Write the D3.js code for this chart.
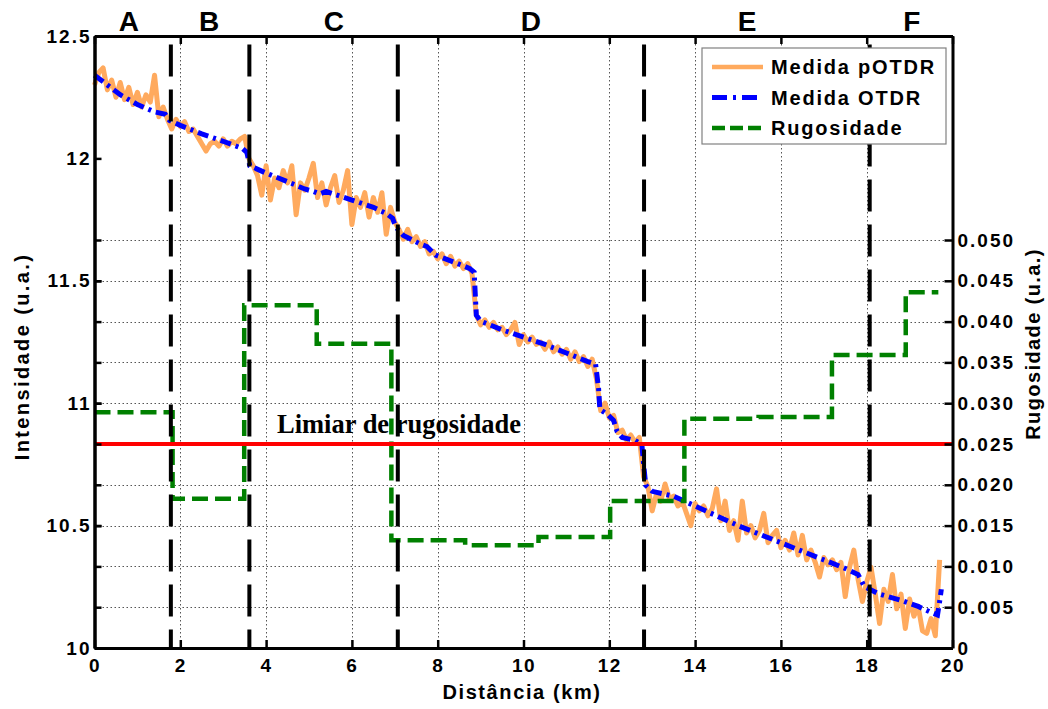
<!DOCTYPE html>
<html>
<head>
<meta charset="utf-8">
<script src="https://cdn.jsdelivr.net/npm/d3@7"></script>
<style>
  body { margin: 0; background: #fff; }
  text { font-family: "Liberation Sans", Arial, sans-serif; font-weight: bold; fill: #000; }
</style>
</head>
<body>
<svg id="chart" width="1048" height="709"></svg>
<script>
// ---- data ----
const xTicks = [0, 2, 4, 6, 8, 10, 12, 14, 16, 18, 20];
const leftTicks = [10, 10.5, 11, 11.5, 12, 12.5];
const rightTicks = [0, 0.005, 0.010, 0.015, 0.020, 0.025, 0.030, 0.035, 0.040, 0.045, 0.050];

const sectionNames = ["A", "B", "C", "D", "E", "F"];
const sectionCenters = [0.80, 2.67, 5.58, 10.17, 15.21, 19.05];   // km
const sectionBounds = [1.78, 3.61, 7.07, 12.81, 18.07];           // km

const roughThreshold = 0.025;
const thresholdLabel = "Limiar de rugosidade";

// pOTDR trace, one sample every 0.1 km starting at 0 km
const potdrStep = 0.1;
const potdrValues = [
  12.30, 12.35, 12.37, 12.28, 12.32, 12.25, 12.31, 12.24, 12.29, 12.22,
  12.27, 12.21, 12.26, 12.23, 12.34, 12.17, 12.21, 12.16, 12.12, 12.16,
  12.13, 12.15, 12.11, 12.12, 12.09, 12.06, 12.03, 12.06, 12.07, 12.05,
  12.08, 12.05, 12.07, 12.06, 12.08, 12.09, 12.00, 11.97, 11.93, 11.85,
  11.97, 11.83, 11.92, 11.88, 11.95, 11.90, 11.97, 11.77, 11.90, 11.87,
  11.92, 11.98, 11.84, 11.90, 11.81, 11.88, 11.93, 11.82, 11.87, 11.95,
  11.73, 11.84, 11.80, 11.86, 11.76, 11.84, 11.78, 11.86, 11.69, 11.80,
  11.74, 11.71, 11.67, 11.71, 11.66, 11.68, 11.64, 11.66, 11.61, 11.62,
  11.59, 11.61, 11.57, 11.60, 11.56, 11.58, 11.55, 11.57, 11.53, 11.36,
  11.32, 11.34, 11.31, 11.33, 11.30, 11.31, 11.28, 11.30, 11.33, 11.24,
  11.28, 11.25, 11.27, 11.24, 11.25, 11.22, 11.25, 11.21, 11.23, 11.20,
  11.22, 11.18, 11.21, 11.17, 11.19, 11.15, 11.18, 11.10, 10.97, 11.00,
  10.94, 10.95, 10.88, 10.89, 10.85, 10.87, 10.84, 10.86, 10.70, 10.66,
  10.56, 10.63, 10.60, 10.67, 10.61, 10.62, 10.58, 10.60, 10.55, 10.50,
  10.59, 10.56, 10.58, 10.54, 10.57, 10.65, 10.52, 10.60, 10.48, 10.52,
  10.44, 10.60, 10.47, 10.50, 10.45, 10.48, 10.55, 10.43, 10.46, 10.48,
  10.41, 10.44, 10.40, 10.47, 10.38, 10.46, 10.36, 10.40, 10.35, 10.29,
  10.37, 10.34, 10.36, 10.32, 10.35, 10.21, 10.33, 10.40, 10.28, 10.19,
  10.27, 10.33, 10.22, 10.10, 10.24, 10.19, 10.30, 10.16, 10.22, 10.08,
  10.20, 10.13, 10.17, 10.07, 10.06, 10.12, 10.05, 10.36
];

// OTDR trace
const otdrDist = [
  0.00, 0.30, 0.60, 1.00, 1.40, 1.65, 1.75, 2.00, 2.50, 3.00, 3.45, 3.55, 3.62,
  4.00, 4.50, 4.90, 5.10, 5.25, 5.40, 6.00, 6.50, 6.80, 6.95, 7.02, 7.20, 7.60,
  7.75, 7.95, 8.40, 8.75, 8.85, 8.90, 9.00, 9.50, 10.00, 10.50, 11.00, 11.50,
  11.68, 11.75, 11.78, 11.95, 12.10, 12.18, 12.30, 12.60, 12.76, 12.80, 12.85,
  13.00, 13.50, 14.00, 14.50, 15.00, 15.50, 16.00, 16.50, 17.00, 17.50, 17.80,
  17.95, 18.30, 18.80, 19.20, 19.50, 19.65, 19.70, 19.74
];
const otdrValues = [
  12.34, 12.30, 12.26, 12.22, 12.19, 12.18, 12.155, 12.135, 12.10, 12.07, 12.04, 12.025, 11.97,
  11.94, 11.905, 11.875, 11.865, 11.855, 11.865, 11.83, 11.80, 11.775, 11.755, 11.72, 11.685, 11.65,
  11.64, 11.605, 11.575, 11.55, 11.535, 11.36, 11.335, 11.30, 11.27, 11.24, 11.205, 11.17,
  11.16, 11.06, 10.975, 10.955, 10.93, 10.885, 10.86, 10.848, 10.83, 10.75, 10.665,
  10.64, 10.62, 10.58, 10.54, 10.50, 10.465, 10.43, 10.395, 10.36, 10.325, 10.30,
  10.25, 10.22, 10.195, 10.17, 10.145, 10.135, 10.19, 10.24
];

// roughness per section (step starts), last entry closes the trace
const roughDist = [0, 1.82, 3.49, 5.18, 6.92, 8.64, 10.35, 12.02, 13.75, 15.48, 17.19, 18.91, 19.67];
const roughValues = [0.0289, 0.0183, 0.0420, 0.0373, 0.0132, 0.0126, 0.0136, 0.0180, 0.0281, 0.0283, 0.0359, 0.0436, 0.0436];

const legendLabels = ["Medida pOTDR", "Medida OTDR", "Rugosidade"];

// ---- scales ----
const svg = d3.select("#chart");
const x = d3.scaleLinear().domain([0, 20]).range([94.5, 952.5]);
const yL = d3.scaleLinear().domain([10, 12.5]).range([648, 36]);
const yR = d3.scaleLinear().domain([0, 0.075]).range([648, 36]);

const colOrange = "#ffaa5e";
const colBlue = "#0000ff";
const colGreen = "#008000";
const colRed = "#ff0000";

// ---- grid ----
const grid = svg.append("g")
  .attr("stroke", "#555").attr("stroke-width", 1).attr("stroke-dasharray", "1.5,2.5");
grid.selectAll("line.gv").data(xTicks.filter(d => d > 0 && d < 20)).join("line")
  .attr("class", "gv")
  .attr("x1", d => Math.round(x(d)) + 0.5).attr("x2", d => Math.round(x(d)) + 0.5)
  .attr("y1", yR.range()[1]).attr("y2", yR.range()[0]);
grid.selectAll("line.gh").data(rightTicks.filter(d => d > 0)).join("line")
  .attr("class", "gh")
  .attr("x1", x(0)).attr("x2", x(20))
  .attr("y1", d => Math.round(yR(d)) + 0.5).attr("y2", d => Math.round(yR(d)) + 0.5);

// ---- data lines ----
const potdr = potdrValues.map((v, i) => [i * potdrStep, v]);
const otdr = otdrDist.map((d, i) => [d, otdrValues[i]]);
const rough = roughDist.map((d, i) => [d, roughValues[i]]);

const lineL = d3.line().x(d => x(d[0])).y(d => yL(d[1]));
const lineR = d3.line().x(d => x(d[0])).y(d => yR(d[1])).curve(d3.curveStepAfter);

svg.append("path").datum(potdr).attr("d", lineL)
  .attr("fill", "none").attr("stroke", colOrange).attr("stroke-width", 5)
  .attr("stroke-linejoin", "round");

svg.append("path").datum(otdr).attr("d", lineL)
  .attr("fill", "none").attr("stroke", colBlue).attr("stroke-width", 5)
  .attr("stroke-dasharray", "11,5,3,5");

svg.append("path").datum(rough).attr("d", lineR)
  .attr("fill", "none").attr("stroke", colGreen).attr("stroke-width", 4.5)
  .attr("stroke-dasharray", "16,7");

// threshold label and line
svg.append("text")
  .attr("x", 277).attr("y", 433)
  .style("font-family", "'Liberation Serif', 'Times New Roman', serif")
  .style("font-size", "26.5px")
  .text(thresholdLabel);

svg.append("line")
  .attr("x1", x(0)).attr("x2", x(20))
  .attr("y1", yR(roughThreshold)).attr("y2", yR(roughThreshold))
  .attr("stroke", colRed).attr("stroke-width", 4);

// section boundaries
svg.append("g").selectAll("line").data(sectionBounds).join("line")
  .attr("x1", d => x(d)).attr("x2", d => x(d))
  .attr("y1", yL(12.465)).attr("y2", yL(10))
  .attr("stroke", "#000").attr("stroke-width", 4)
  .attr("stroke-dasharray", "32,13");

// ---- axes ----
function styleAxis(g, fontSize, spacing) {
  g.select(".domain").attr("stroke", "#000").attr("stroke-width", 3);
  g.selectAll(".tick line").attr("stroke", "#000").attr("stroke-width", 2.5);
  g.selectAll(".tick text")
    .attr("fill", "#000")
    .style("font-family", "'Liberation Sans', Arial, sans-serif")
    .style("font-weight", "bold")
    .style("font-size", fontSize + "px")
    .style("letter-spacing", spacing + "px");
}

svg.append("g").attr("transform", "translate(0,36)")
  .call(d3.axisTop(x).tickValues(xTicks).tickSize(-8).tickSizeOuter(0).tickFormat(""))
  .call(g => styleAxis(g, 19, 2));

svg.append("g").attr("transform", "translate(0,648)")
  .call(d3.axisBottom(x).tickValues(xTicks).tickSize(-8).tickSizeOuter(0).tickPadding(11))
  .call(g => styleAxis(g, 19, 1.5));

svg.append("g").attr("transform", "translate(94.5,0)")
  .call(d3.axisLeft(yR).tickValues(rightTicks).tickSize(-7).tickSizeOuter(0).tickFormat(""))
  .call(g => styleAxis(g, 19, 2));

svg.append("g").attr("transform", "translate(94.5,0)")
  .call(d3.axisLeft(yL).tickValues(leftTicks).tickSize(-7).tickSizeOuter(0).tickPadding(3)
        .tickFormat(d => String(d)))
  .call(g => styleAxis(g, 19, 2));

const fmtR = d3.format(".3f");
svg.append("g").attr("transform", "translate(952.5,0)")
  .call(d3.axisRight(yR).tickValues(rightTicks).tickSize(-8).tickSizeOuter(0).tickPadding(5)
        .tickFormat(d => d === 0 ? "0" : fmtR(d)))
  .call(g => styleAxis(g, 19, 2));

// axis titles
svg.append("text")
  .attr("x", 522).attr("y", 699).attr("text-anchor", "middle")
  .style("font-size", "20px").style("letter-spacing", "1.6px")
  .text("Distância (km)");

svg.append("text")
  .attr("transform", "translate(28.5,356.5) rotate(-90)").attr("text-anchor", "middle")
  .style("font-size", "20px").style("letter-spacing", "2.4px")
  .text("Intensidade (u.a.)");

svg.append("text")
  .attr("transform", "translate(1040,344) rotate(-90)").attr("text-anchor", "middle")
  .style("font-size", "20px").style("letter-spacing", "1.4px")
  .text("Rugosidade (u.a.)");

// section letters
svg.append("g").selectAll("text").data(sectionNames).join("text")
  .attr("x", (d, i) => x(sectionCenters[i])).attr("y", 31)
  .attr("text-anchor", "middle")
  .style("font-size", "28px")
  .text(d => d);

// ---- legend ----
const lg = svg.append("g").attr("transform", "translate(702,48)");
lg.append("rect").attr("width", 244).attr("height", 96)
  .attr("fill", "#fff").attr("stroke", "#808080").attr("stroke-width", 1.2);
const legendStyles = [
  { color: colOrange, width: 4.5, dash: null },
  { color: colBlue, width: 5, dash: "15,6,3,6" },
  { color: colGreen, width: 4.5, dash: "13,5" }
];
legendLabels.forEach((label, i) => {
  const cy = 19 + i * 30.5;
  const s = legendStyles[i];
  lg.append("line").attr("x1", 10).attr("x2", 61).attr("y1", cy).attr("y2", cy)
    .attr("stroke", s.color).attr("stroke-width", s.width)
    .attr("stroke-dasharray", s.dash);
  lg.append("text").attr("x", 69).attr("y", cy).attr("dy", "0.36em")
    .style("font-size", "20px").style("letter-spacing", "1.8px")
    .text(label);
});
</script>
</body>
</html>
